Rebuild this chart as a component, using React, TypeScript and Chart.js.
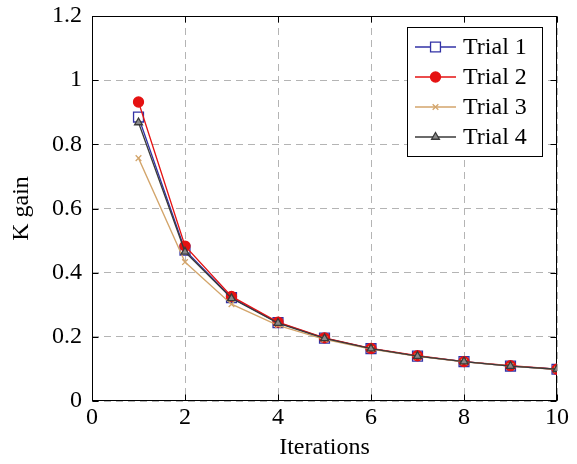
import React, { useEffect, useRef } from 'react';
import { Chart, registerables } from 'chart.js';

Chart.register(...registerables);

const iterations = [1, 2, 3, 4, 5, 6, 7, 8, 9, 10];
const trial1 = [0.885, 0.47, 0.322, 0.244, 0.196, 0.163, 0.14, 0.123, 0.109, 0.099];
const trial2 = [0.932, 0.483, 0.326, 0.246, 0.197, 0.164, 0.141, 0.123, 0.11, 0.099];
const trial3 = [0.757, 0.433, 0.302, 0.236, 0.192, 0.162, 0.139, 0.122, 0.109, 0.098];
const trial4 = [0.868, 0.465, 0.32, 0.243, 0.195, 0.163, 0.14, 0.123, 0.109, 0.099];
const seriesNames = ['Trial 1', 'Trial 2', 'Trial 3', 'Trial 4'];
const xTicks = [0, 2, 4, 6, 8, 10];
const yTicks = [0, 0.2, 0.4, 0.6, 0.8, 1, 1.2];
const xTitle = 'Iterations';
const yTitle = 'K gain';

const FONT = '"Liberation Serif", "Times New Roman", serif';
const FS = 24;

const styles = [
  { color: '#3232a6', point: 'rect', radius: 7, fill: '#ffffff' },
  { color: '#e51212', point: 'circle', radius: 5, fill: '#e51212' },
  { color: '#d3a56b', point: 'crossRot', radius: 4, fill: '#d3a56b' },
  { color: '#3a3a3a', point: 'triangle', radius: 4.5, fill: '#8a8a8a' },
];

function marker(ctx: CanvasRenderingContext2D, kind: string, r: number, x: number, y: number) {
  ctx.beginPath();
  if (kind === 'rect') {
    const s = r / Math.SQRT2;
    ctx.rect(x - s, y - s, 2 * s, 2 * s);
    ctx.fill();
    ctx.stroke();
  } else if (kind === 'circle') {
    ctx.arc(x, y, r, 0, Math.PI * 2);
    ctx.fill();
    ctx.stroke();
  } else if (kind === 'crossRot') {
    const s = r * Math.SQRT1_2;
    ctx.moveTo(x - s, y - s); ctx.lineTo(x + s, y + s);
    ctx.moveTo(x - s, y + s); ctx.lineTo(x + s, y - s);
    ctx.stroke();
  } else if (kind === 'triangle') {
    const h = r * 1.5;
    ctx.moveTo(x, y - r);
    ctx.lineTo(x + h / Math.sqrt(3), y + r / 2);
    ctx.lineTo(x - h / Math.sqrt(3), y + r / 2);
    ctx.closePath();
    ctx.fill();
    ctx.stroke();
  }
}

const decor = {
  id: 'decor',
  beforeDatasetsDraw(chart: any) {
    const { ctx, chartArea: a, scales } = chart;
    ctx.save();
    ctx.strokeStyle = '#000';
    ctx.lineWidth = 1;
    ctx.setLineDash([]);
    const L = Math.round(a.left) + 0.5, R = Math.round(a.right) - 0.5;
    const T = Math.round(a.top) + 0.5, B = Math.round(a.bottom) - 0.5;
    ctx.strokeRect(L, T, R - L, B - T);
    ctx.beginPath();
    xTicks.forEach((v) => {
      const p = Math.round(scales.x.getPixelForValue(v)) + 0.5;
      ctx.moveTo(p, B); ctx.lineTo(p, B - 6);
      ctx.moveTo(p, T); ctx.lineTo(p, T + 6);
    });
    yTicks.forEach((v) => {
      const p = Math.round(scales.y.getPixelForValue(v)) + 0.5;
      ctx.moveTo(L, p); ctx.lineTo(L + 6, p);
      ctx.moveTo(R, p); ctx.lineTo(R - 6, p);
    });
    ctx.stroke();
    ctx.restore();
  },
  afterDraw(chart: any) {
    const { ctx, chartArea: a } = chart;
    ctx.save();
    ctx.fillStyle = '#000';
    ctx.font = `${FS}px ${FONT}`;
    ctx.textAlign = 'center';
    ctx.textBaseline = 'middle';
    ctx.fillText(xTitle, (a.left + a.right) / 2, 448);
    ctx.save();
    ctx.translate(22, (a.top + a.bottom) / 2);
    ctx.rotate(-Math.PI / 2);
    ctx.fillText(yTitle, 0, 0);
    ctx.restore();

    // legend
    const bw = 135, bh = 129;
    const bx = Math.round(a.right - 15 - bw) + 0.5;
    const by = Math.round(a.top + 11) + 0.5;
    ctx.fillStyle = '#fff';
    ctx.fillRect(bx, by, bw, bh);
    ctx.strokeStyle = '#000';
    ctx.lineWidth = 1;
    ctx.strokeRect(bx, by, bw, bh);
    seriesNames.forEach((name, i) => {
      const st = styles[i];
      const cy = by + 19.5 + i * 30;
      ctx.strokeStyle = st.color;
      ctx.lineWidth = 1.3;
      ctx.beginPath();
      ctx.moveTo(bx + 7.5, cy);
      ctx.lineTo(bx + 48.5, cy);
      ctx.stroke();
      ctx.fillStyle = st.fill;
      marker(ctx, st.point, st.radius, bx + 28, cy);
      ctx.fillStyle = '#000';
      ctx.textAlign = 'left';
      ctx.textBaseline = 'middle';
      ctx.font = `${FS}px ${FONT}`;
      ctx.fillText(name, bx + 55.5, cy + 1);
    });
    ctx.restore();
  },
};

export default function App() {
  const ref = useRef<HTMLCanvasElement | null>(null);
  useEffect(() => {
    document.body.style.margin = '0';
    const series = [trial1, trial2, trial3, trial4];
    const chart = new Chart(ref.current as HTMLCanvasElement, {
      type: 'line',
      data: {
        datasets: series.map((vals, i) => ({
          label: seriesNames[i],
          data: iterations.map((x, j) => ({ x, y: vals[j] })),
          borderColor: styles[i].color,
          backgroundColor: styles[i].fill,
          pointBorderColor: styles[i].color,
          pointBackgroundColor: styles[i].fill,
          pointStyle: styles[i].point as any,
          pointRadius: styles[i].radius,
          pointBorderWidth: 1.3,
          borderWidth: 1.3,
          tension: 0,
          fill: false,
          order: 3 - i,
        })),
      },
      options: {
        animation: false,
        responsive: false,
        layout: { padding: { left: 0, right: 20, top: 16, bottom: 0 } },
        plugins: { legend: { display: false }, tooltip: { enabled: false } },
        scales: {
          x: {
            type: 'linear',
            min: 0,
            max: 10,
            afterBuildTicks: (s: any) => { s.ticks = xTicks.map((v) => ({ value: v })); },
            afterFit: (s: any) => { s.height = 63; s.paddingLeft = 0; s.paddingRight = 0; },
            grid: { color: '#b4b4b4', lineWidth: 1, drawTicks: false },
            border: { display: false, dash: [7, 5] },
            ticks: { color: '#000', font: { family: FONT, size: FS }, padding: 2, maxRotation: 0 },
          },
          y: {
            type: 'linear',
            min: 0,
            max: 1.2,
            afterBuildTicks: (s: any) => { s.ticks = yTicks.map((v) => ({ value: v })); },
            afterFit: (s: any) => { s.width = 92; s.paddingTop = 0; s.paddingBottom = 0; },
            grid: { color: '#b4b4b4', lineWidth: 1, drawTicks: false },
            border: { display: false, dash: [7, 5] },
            ticks: { color: '#000', font: { family: FONT, size: FS }, padding: 10, callback: (v: any) => String(v) },
          },
        },
      },
      plugins: [decor],
    });
    return () => chart.destroy();
  }, []);
  return (
    <div style={{ width: 577, height: 464 }}>
      <canvas ref={ref} width={577} height={464} />
    </div>
  );
}
